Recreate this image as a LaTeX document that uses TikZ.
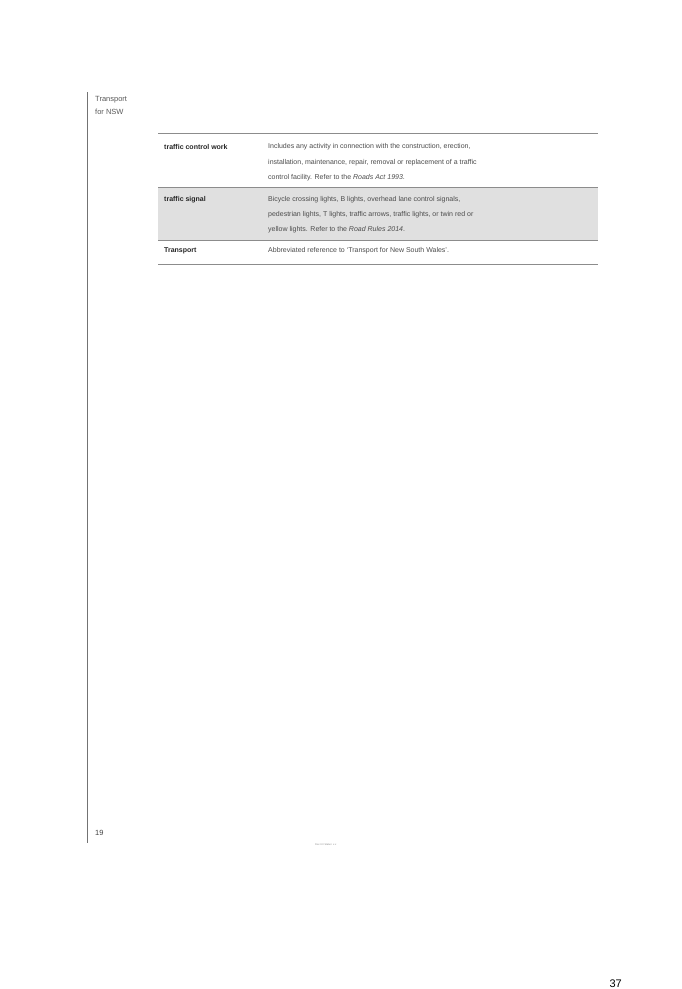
\documentclass[tikz,border=0pt]{standalone}
\usepackage{fontspec}
\setmainfont{Liberation Sans}
\tikzset{
  term/.style={anchor=west,inner sep=0pt,font=\fontsize{7}{8}\selectfont\bfseries,text=black!85},
  defn/.style={anchor=west,inner sep=0pt,font=\fontsize{7}{8}\selectfont,text=black!70},
  rule/.style={line width=0.6pt,draw=black!45}
}
\begin{document}
\begin{tikzpicture}[x=1pt,y=-1pt]
  \useasboundingbox[fill=white] (0,0) rectangle (682,989);
  % side bar and header
  \draw[line width=0.7pt,black!55] (87,92) -- (87,843);
  \node[defn,text=black!65,font=\fontsize{7.5}{9}\selectfont] (hdra) at (95,100) {Transport};
  \node[defn,text=black!65,font=\fontsize{7.5}{9}\selectfont] (hdrb) at (95,112) {for NSW};
  % table
  \fill[black!12] (158,187) rectangle (598,240);
  \draw[rule] (158,133) -- (598,133);
  \draw[rule] (158,187) -- (598,187);
  \draw[rule] (158,240) -- (598,240);
  \draw[rule] (158,264) -- (598,264);
  \node[term] (tcw) at (164,147) {traffic control work};
  \node[defn] (tcwa) at (268,147) {Includes any activity in connection with the construction, erection,};
  \node[defn] (tcwb) at (268,163) {installation, maintenance, repair, removal or replacement of a traffic};
  \node[defn] (tcwc) at (268,178) {control facility. Refer to the \textit{Roads Act 1993}.};
  \node[term] (ts) at (164,200) {traffic signal};
  \node[defn] (tsa) at (268,200) {Bicycle crossing lights, B lights, overhead lane control signals,};
  \node[defn] (tsb) at (268,215) {pedestrian lights, T lights, traffic arrows, traffic lights, or twin red or};
  \node[defn] (tsc) at (268,230) {yellow lights. Refer to the \textit{Road Rules 2014}.};
  \node[term] (tr) at (164,251) {Transport};
  \node[defn] (tra) at (268,251) {Abbreviated reference to `Transport for New South Wales'.};
  % footer
  \node[defn,text=black!75,font=\fontsize{7.5}{9}\selectfont] (pg) at (95,833) {19};
  \node[defn,text=black!45,font=\fontsize{2.5}{3}\selectfont] (ver) at (315,845) {Rev 0.0 Status: x.x};
  \node[anchor=east,inner sep=0pt,font=\fontsize{11}{13}\selectfont] (num) at (622,984) {37};
\end{tikzpicture}
\end{document}
